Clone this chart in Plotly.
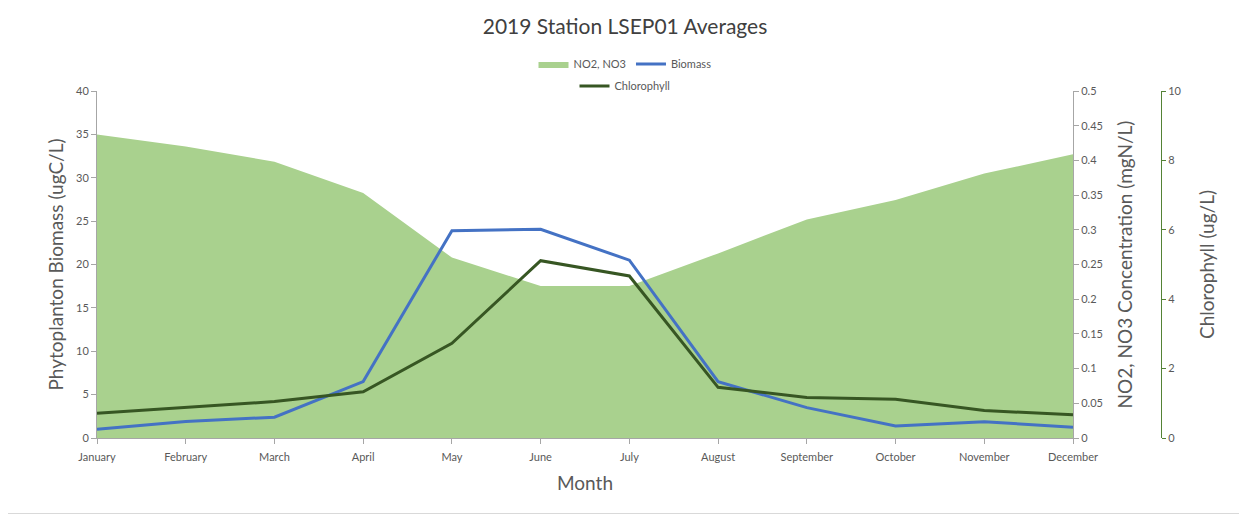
import plotly.graph_objects as go

months = ["January", "February", "March", "April", "May", "June", "July",
          "August", "September", "October", "November", "December"]
biomass = [1.0, 1.9, 2.4, 6.5, 23.9, 24.05, 20.5, 6.5, 3.5, 1.38, 1.88, 1.23]
chlorophyll = [0.71, 0.88, 1.05, 1.33, 2.73, 5.11, 4.67, 1.46, 1.17, 1.12, 0.79, 0.67]
no2_no3 = [0.4375, 0.42, 0.398, 0.353, 0.26, 0.219, 0.219, 0.266, 0.315, 0.343, 0.381, 0.409]

FONT = "Lato"
TXT = "#595959"
AX = "#A6A6A6"

# page has an 8px body margin, so everything is laid out 8px up/left
L, T, W, H = 89, 83, 976, 347
R = 40
PW = 1247 - L - R

fig = go.Figure()

# area sits on the base axis so the lines draw above it
fig.add_trace(go.Scatter(
    x=months, y=no2_no3, name="NO2, NO3", yaxis="y",
    mode="lines", fill="tozeroy", fillcolor="#A9D18E",
    line={"width": 0, "color": "#A9D18E"}, legend="legend",
))
fig.add_trace(go.Scatter(
    x=months, y=biomass, name="Biomass", yaxis="y2",
    mode="lines", line={"color": "#4472C4", "width": 3}, legend="legend",
))
fig.add_trace(go.Scatter(
    x=months, y=chlorophyll, name="Chlorophyll", yaxis="y3",
    mode="lines", line={"color": "#375623", "width": 3}, legend="legend2",
))

tick_font = {"family": FONT, "size": 11, "color": TXT}
title_font = {"family": FONT, "size": 19, "color": TXT}

fig.update_layout(
    width=1247, height=514,
    margin={"l": L, "r": R, "t": T, "b": 514 - T - H, "autoexpand": False},
    paper_bgcolor="white", plot_bgcolor="white",
    font={"family": FONT, "color": TXT},
    title={"text": "2019 Station LSEP01 Averages", "x": 617 / 1247, "xref": "container",
           "xanchor": "center", "y": 1 - 19 / 514, "yanchor": "middle",
           "font": {"family": FONT, "size": 21, "color": "#404040"}},
    xaxis={
        "domain": [0, W / PW], "type": "category", "range": [0, 11],
        "showgrid": False, "showline": True, "linecolor": AX,
        "ticks": "outside", "tickcolor": AX, "ticklen": 5,
        "tickfont": tick_font, "tickangle": 0, "ticklabelstandoff": 4,
        "automargin": False,
        "title": {"text": "Month", "font": title_font, "standoff": 14},
    },
    yaxis={
        "side": "right", "anchor": "x", "range": [0, 0.5], "dtick": 0.05,
        "showgrid": False, "zeroline": False, "showline": True, "linecolor": AX,
        "ticks": "outside", "tickcolor": AX, "ticklen": 5, "tickfont": tick_font,
        "tickformat": "~g", "automargin": False,
        "title": {"text": "NO2, NO3 Concentration (mgN/L)", "font": title_font,
                  "standoff": 16},
    },
    yaxis2={
        "side": "left", "overlaying": "y", "anchor": "x", "range": [0, 40],
        "dtick": 5, "showgrid": False, "zeroline": False, "showline": True,
        "linecolor": AX, "ticks": "outside", "tickcolor": AX, "ticklen": 5,
        "tickfont": tick_font, "automargin": False,
        "title": {"text": "Phytoplanton Biomass (ugC/L)", "font": title_font,
                  "standoff": 7},
    },
    yaxis3={
        "side": "right", "overlaying": "y", "anchor": "free",
        "position": (1161 - 97) / PW, "range": [0, 10], "dtick": 2,
        "showgrid": False, "zeroline": False, "showline": True,
        "linecolor": "#548235", "ticks": "outside", "tickcolor": "#548235",
        "ticklen": 4, "tickfont": tick_font, "automargin": False,
        "title": {"text": "Chlorophyll (ug/L)", "font": title_font, "standoff": 20},
    },
    legend={"orientation": "h", "x": (625 - 97) / PW, "xanchor": "center",
            "y": (438 - 64) / H, "yanchor": "middle",
            "font": {"family": FONT, "size": 11, "color": TXT},
            "bgcolor": "rgba(0,0,0,0)"},
    legend2={"orientation": "h", "x": (625 - 97) / PW, "xanchor": "center",
             "y": (438 - 86) / H, "yanchor": "middle",
             "font": {"family": FONT, "size": 11, "color": TXT},
             "bgcolor": "rgba(0,0,0,0)"},
    shapes=[{
        "type": "rect", "xref": "paper", "yref": "paper",
        "x0": -(L + 7.5) / PW, "x1": (1238.5 - L) / PW,
        "y0": -(505.5 - T - H) / H, "y1": (H + T + 7.5) / H,
        "line": {"color": "#D9D9D9", "width": 1}, "fillcolor": "rgba(0,0,0,0)",
        "layer": "below",
    }],
)

fig.write_html("out.html")
